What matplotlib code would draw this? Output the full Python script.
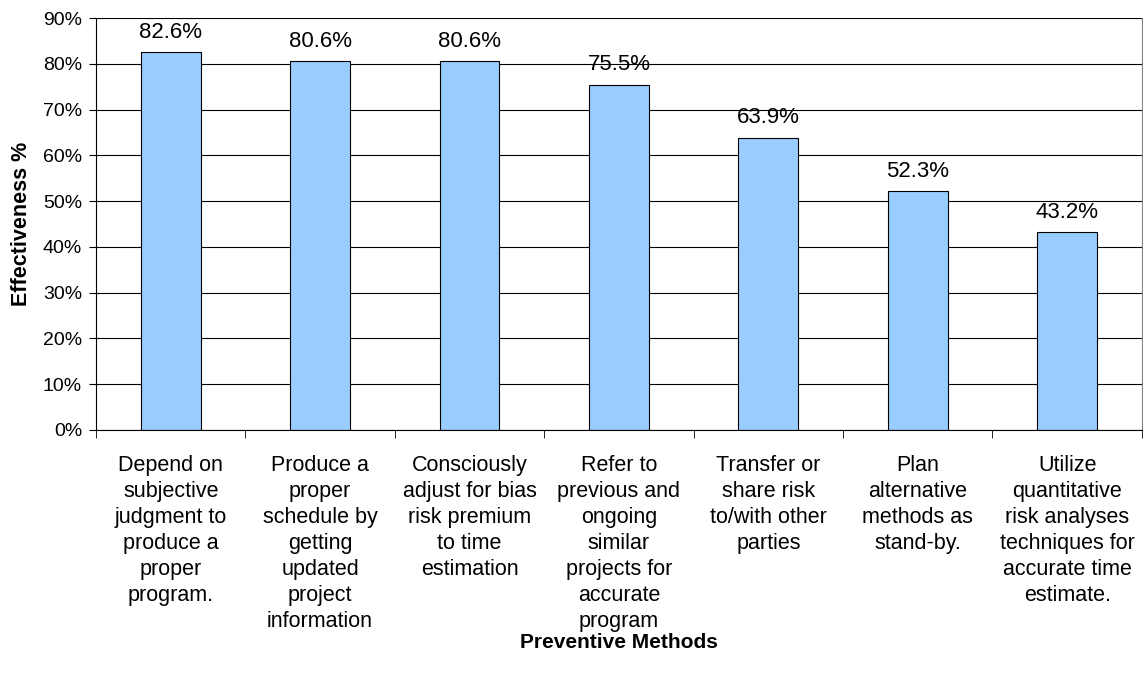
import numpy as np
import matplotlib.pyplot as plt

plt.rcParams['font.family'] = ['Liberation Sans', 'DejaVu Sans']

categories = [
    "Depend on\nsubjective\njudgment to\nproduce a\nproper\nprogram.",
    "Produce a\nproper\nschedule by\ngetting\nupdated\nproject\ninformation",
    "Consciously\nadjust for bias\nrisk premium\nto time\nestimation",
    "Refer to\nprevious and\nongoing\nsimilar\nprojects for\naccurate\nprogram",
    "Transfer or\nshare risk\nto/with other\nparties",
    "Plan\nalternative\nmethods as\nstand-by.",
    "Utilize\nquantitative\nrisk analyses\ntechniques for\naccurate time\nestimate.",
]
values = [82.6, 80.6, 80.6, 75.5, 63.9, 52.3, 43.2]

fig = plt.figure(figsize=(11.43, 6.75), dpi=100)
ax = fig.add_axes([0.084, 0.363, 0.915, 0.61])

x = np.arange(len(values))
ax.set_axisbelow(True)
ax.yaxis.grid(True, color='black', linewidth=0.8)
ax.bar(x, values, width=0.4, color='#99CCFF', edgecolor='black', linewidth=0.8)
for xi, v in zip(x, values):
    ax.text(xi, v + 2.0, f"{v:.1f}%", ha='center', va='bottom', fontsize=16)

ax.set_xlim(-0.5, len(values) - 0.5)
ax.set_ylim(0, 90)
ax.set_yticks(np.arange(0, 91, 10))
ax.set_yticklabels([f"{t}%" for t in range(0, 91, 10)], fontsize=14)
ax.set_xticks(x)
ax.set_xticklabels(categories, fontsize=15.5, linespacing=1.31)
ax.set_xticks(np.arange(-0.5, len(values), 1), minor=True)
ax.tick_params(axis='x', which='major', length=0, pad=18)
ax.tick_params(axis='x', which='minor', length=6, color='black')
ax.tick_params(axis='y', length=5, color='black', pad=5)

ax.spines['top'].set_visible(False)
ax.spines['right'].set_color('gray')
ax.spines['left'].set_color('black')
ax.spines['bottom'].set_color('black')

ax.set_ylabel("Effectiveness %", fontsize=15.5, fontweight='bold', labelpad=8)
ax.set_xlabel("Preventive Methods", fontsize=15, fontweight='bold', labelpad=1)

fig.savefig('out.png', dpi=100)
